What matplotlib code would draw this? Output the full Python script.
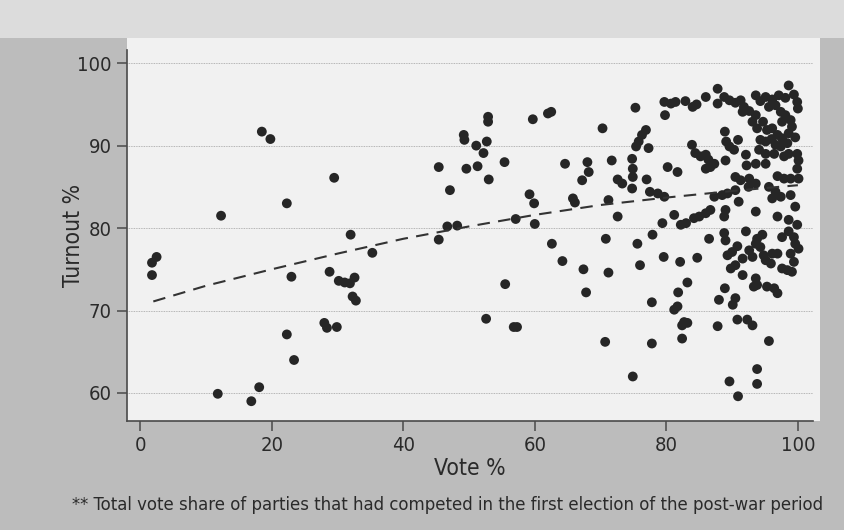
import matplotlib
matplotlib.use("Agg")
import os
import matplotlib.pyplot as plt
from matplotlib.patches import Rectangle
from matplotlib import font_manager
from matplotlib.font_manager import FontProperties

# ---------------- data ----------------
vote_left = [18.5, 19.8, 29.5, 22.3, 12.3, 32.0, 2.5, 1.8, 1.8, 35.3, 23.0, 28.8, 30.2,
             31.1, 31.9, 32.6, 32.3, 32.8, 28.0, 28.4, 29.9, 22.3, 23.4, 18.1, 11.8, 16.9]
turnout_left = [91.7, 90.8, 86.1, 83.0, 81.5, 79.2, 76.5, 75.8, 74.3, 77.0, 74.1, 74.7, 73.6,
                73.4, 73.3, 74.0, 71.7, 71.2, 68.5, 67.9, 68.0, 67.1, 64.0, 60.7, 59.9, 59.0]

vote_mid = [52.9, 52.9, 59.7, 62.0, 62.5, 70.3, 49.2, 49.3, 51.1, 52.7, 52.2, 45.4, 49.6,
            51.3, 55.4, 53.0, 64.6, 68.0, 68.2, 67.2, 71.7, 72.6, 47.1, 59.2, 59.9, 65.8,
            66.1, 71.2, 72.6, 46.7, 48.2, 57.1, 60.0, 45.4, 70.8, 62.6, 64.2, 67.4, 71.2,
            55.5, 67.8, 52.6, 56.8, 57.3, 70.7]
turnout_mid = [93.5, 92.9, 93.2, 93.9, 94.1, 92.1, 91.3, 90.7, 90.0, 90.5, 89.1, 87.4, 87.2,
               87.5, 88.0, 85.9, 87.8, 88.0, 86.8, 85.8, 88.2, 85.9, 84.6, 84.1, 83.0, 83.6,
               83.1, 83.4, 81.4, 80.2, 80.3, 81.1, 80.5, 78.6, 78.7, 78.1, 76.0, 75.0, 74.6,
               73.2, 72.2, 69.0, 68.0, 68.0, 66.2]

vote_upper_right = [98.6, 87.8, 75.3, 79.7, 80.7, 81.4, 79.8, 82.9, 84.0, 84.6, 86.0, 87.8,
                    88.8, 89.6, 90.5, 91.3, 91.8, 91.6, 92.6, 93.6, 94.3, 95.1, 96.1, 97.1,
                    98.1, 99.4, 99.9, 100.0, 95.6, 96.6, 97.4, 98.1, 93.6, 93.1, 93.8, 94.7,
                    97.6, 98.9, 99.1, 95.3, 96.1, 96.9, 97.6, 98.6, 99.6, 94.3, 95.1, 96.0,
                    96.6, 97.4, 98.4, 94.1, 95.1, 96.4, 97.9, 98.6, 99.9, 100.1, 99.9, 100.1,
                    98.9, 97.9, 96.9, 95.1, 88.9, 89.1, 89.6, 90.9, 90.3, 92.1, 92.2, 89.0,
                    87.3, 86.0, 86.7, 83.9, 84.4, 85.2, 86.0, 86.4, 93.6, 76.9, 76.3, 75.8,
                    75.4, 77.3, 74.8, 74.9, 74.9, 73.3, 74.8, 77.0, 77.5, 78.7, 79.7, 80.2,
                    81.7, 90.5, 91.3, 92.6, 92.5, 93.6, 90.5, 89.3, 87.3, 88.5, 91.0, 95.6,
                    96.6, 97.4, 96.1, 98.9, 99.6, 81.2, 93.6, 96.9, 98.6, 89.0, 88.8, 86.7,
                    86.0, 85.0, 84.2, 83.0, 82.2, 79.4, 99.9]
turnout_upper_right = [97.3, 96.9, 94.6, 95.3, 95.1, 95.3, 93.7, 95.4, 94.7, 95.0, 95.9, 95.1,
                       95.9, 95.5, 95.2, 95.5, 94.7, 94.1, 94.2, 96.1, 95.4, 95.9, 95.6, 96.1,
                       95.8, 96.2, 95.3, 94.5, 94.7, 94.9, 94.1, 93.7, 93.7, 92.9, 92.1, 92.9,
                       92.9, 93.1, 92.3, 91.9, 92.1, 91.3, 90.9, 91.5, 91.0, 90.7, 90.5, 90.8,
                       90.1, 89.9, 90.3, 89.5, 89.0, 89.0, 88.7, 89.0, 89.0, 88.2, 87.2, 86.0,
                       86.0, 86.0, 86.3, 87.8, 91.7, 90.5, 89.9, 90.7, 89.5, 88.9, 87.6, 88.2,
                       87.8, 87.2, 87.4, 90.1, 89.1, 88.7, 88.9, 88.3, 87.8, 91.9, 91.3, 90.5,
                       89.9, 89.7, 88.4, 87.2, 86.2, 85.4, 84.8, 85.9, 84.4, 84.2, 83.8, 87.4,
                       86.8, 86.2, 85.8, 86.0, 85.0, 85.4, 84.6, 84.2, 83.8, 84.0, 83.2, 85.0,
                       84.4, 83.8, 83.6, 84.0, 82.6, 81.6, 82.0, 81.4, 81.0, 82.2, 81.4, 82.2,
                       81.8, 81.4, 81.2, 80.6, 80.4, 80.6, 80.4]

vote_lower_right = [77.9, 75.6, 79.6, 76.0, 82.1, 84.7, 86.5, 88.8, 89.0, 92.1, 89.3, 90.0,
                    90.8, 91.6, 92.6, 89.8, 90.5, 91.6, 93.1, 93.6, 93.8, 94.6, 94.3, 94.8,
                    95.1, 95.9, 96.1, 96.9, 97.6, 98.6, 99.4, 99.6, 100.1, 98.9, 99.4, 97.6,
                    98.4, 99.1, 93.6, 93.8, 93.3, 95.3, 96.4, 96.9, 88.9, 88.0, 90.5, 90.1,
                    83.2, 81.8, 81.7, 81.2, 77.8, 82.7, 83.2, 82.4, 82.4, 77.8, 87.8, 90.8,
                    92.3, 93.1, 95.6, 74.9, 93.8, 89.6, 93.8, 90.9]
turnout_lower_right = [79.2, 78.1, 76.5, 75.5, 75.9, 76.4, 78.7, 79.4, 78.5, 79.6, 76.7, 77.1,
                       77.8, 76.3, 77.3, 75.1, 75.5, 74.3, 76.5, 78.1, 78.7, 79.2, 77.7, 76.7,
                       76.1, 75.7, 76.9, 76.9, 78.9, 79.6, 78.9, 78.1, 77.5, 76.9, 75.9, 75.1,
                       74.9, 74.7, 73.9, 73.1, 72.9, 72.9, 72.7, 72.1, 72.7, 71.3, 71.5, 70.7,
                       73.4, 72.2, 70.5, 70.1, 71.0, 68.6, 68.5, 68.2, 66.6, 66.0, 68.1, 68.9,
                       68.9, 68.2, 66.3, 62.0, 62.9, 61.4, 61.1, 59.6]

# fitted trend line
trend_vote = [2, 10, 20, 30, 40, 50, 60, 70, 80, 90, 100]
trend_turnout = [71.1, 73.0, 75.0, 76.9, 78.7, 80.2, 81.6, 82.8, 83.7, 84.5, 85.2]

x_ticks = [0, 20, 40, 60, 80, 100]
y_ticks = [60, 70, 80, 90, 100]
x_label = "Vote %"
y_label = "Turnout %"
footnote = "** Total vote share of parties that had competed in the first election of the post-war period"

# ---------------- font: prefer a condensed sans ----------------
font_file = None
try:
    files = font_manager.findSystemFonts()
except Exception:
    files = []
prefs = ["LiberationSansNarrow-Regular", "DejaVuSansCondensed.", "RobotoCondensed-Regular",
         "OpenSans_Condensed-Regular", "OpenSansCondensed", "NotoSans-Condensed.",
         "NotoSansCondensed-Regular", "Roboto_Condensed-Regular"]
for p in prefs:
    for f in files:
        if p.lower() in os.path.basename(f).lower():
            font_file = f
            break
    if font_file:
        break


def fp(size):
    if font_file:
        return FontProperties(fname=font_file, size=size)
    return FontProperties(family="DejaVu Sans", size=size)


W, H = 845, 530
AX_L, AX_R, AX_T, AX_B = 127, 813, 50, 421
fig = plt.figure(figsize=(W / 100, H / 100), dpi=100, facecolor="#bcbcbc")

# page areas
fig.patches.append(Rectangle((0, 1 - 38 / H), 1, 38 / H, transform=fig.transFigure,
                             facecolor="#dcdcdc", edgecolor="none", zorder=-5))
fig.patches.append(Rectangle((AX_L / W, 1 - AX_B / H), (820 - AX_L) / W, (AX_B - 38) / H,
                             transform=fig.transFigure, facecolor="#f1f1f1",
                             edgecolor="none", zorder=-5))

ax = fig.add_axes([AX_L / W, 1 - AX_B / H, (AX_R - AX_L) / W, (AX_B - AX_T) / H])
ax.set_zorder(5)
ax.set_facecolor("none")

ax.set_xlim(-2, 102.3)
ax.set_ylim(56.6, 101.6)

for y in y_ticks:
    ax.axhline(y, color="#a0a0a0", lw=0.6, ls=(0, (1, 1)), zorder=1)

dot_color = "#262626"
for vx, vy in [(vote_left, turnout_left), (vote_mid, turnout_mid),
               (vote_upper_right, turnout_upper_right),
               (vote_lower_right, turnout_lower_right)]:
    ax.scatter(vx, vy, s=50, color=dot_color, edgecolors="none", zorder=3)

ax.plot(trend_vote, trend_turnout, color="#333333", lw=1.5, ls=(0, (6, 4)), zorder=4)

for s in ["top", "right"]:
    ax.spines[s].set_visible(False)
for s in ["left", "bottom"]:
    ax.spines[s].set_color("#4a4a4a")
    ax.spines[s].set_linewidth(1.2)

ax.set_xticks(x_ticks)
ax.set_yticks(y_ticks)
ax.tick_params(axis="both", direction="out", length=7, width=1.1, color="#4a4a4a",
               labelcolor="#2a2a2a")
ax.tick_params(axis="x", pad=4)
ax.tick_params(axis="y", pad=4)
tick_size = 14.5 if font_file else 13
for lab in ax.get_xticklabels() + ax.get_yticklabels():
    lab.set_fontproperties(fp(tick_size))

ax.set_xlabel(x_label, fontproperties=fp(16.5), color="#2a2a2a")
ax.set_ylabel(y_label, fontproperties=fp(16.5), color="#2a2a2a")
ax.xaxis.set_label_coords(0.5, -(457 - AX_B) / (AX_B - AX_T))
ax.yaxis.set_label_coords(-(AX_L - 85) / (AX_R - AX_L), 0.5)

fn = fig.text(72 / W, 1 - 505 / H, footnote, fontproperties=fp(15), color="#2a2a2a",
              ha="left", va="center")
# fit the footnote to the width it has in the reference (~755 px)
renderer = fig.canvas.get_renderer()
w = fn.get_window_extent(renderer).width
if w > 0:
    fn.set_fontproperties(fp(15 * 755.0 / w))

fig.savefig("out.png", dpi=100, facecolor=fig.get_facecolor())
